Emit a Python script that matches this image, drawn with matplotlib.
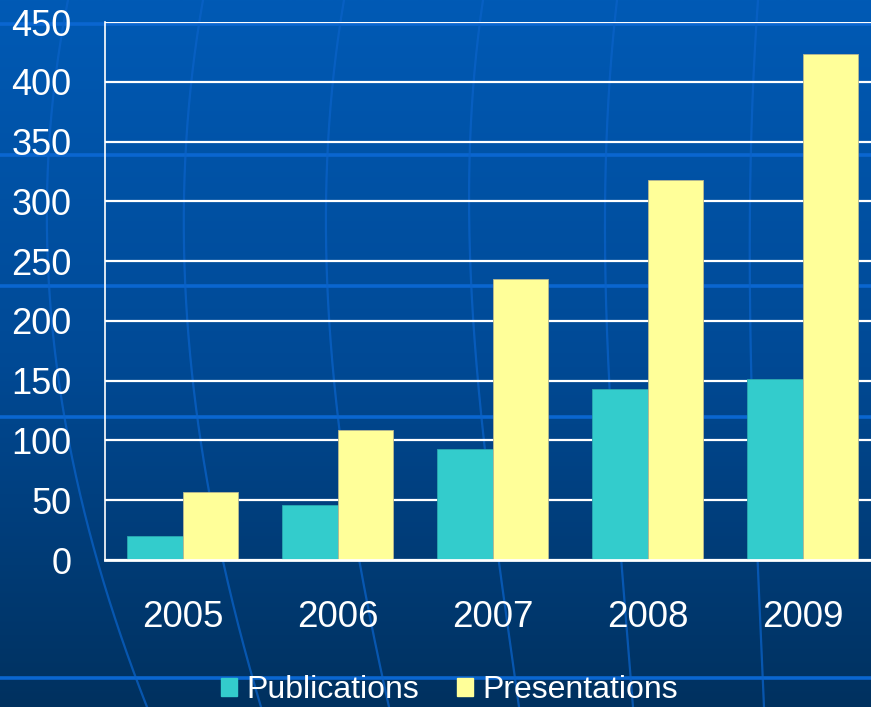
import numpy as np
import matplotlib
matplotlib.use("Agg")
import matplotlib.pyplot as plt
from matplotlib.patches import Rectangle
from matplotlib.colors import LinearSegmentedColormap

years = ["2005", "2006", "2007", "2008", "2009"]
publications = [20, 46, 93, 143, 151]
presentations = [57, 109, 235, 318, 423]
yticks = [0, 50, 100, 150, 200, 250, 300, 350, 400, 450]

W, H = 871, 707
plt.rcParams['font.family'] = ['Liberation Sans', 'DejaVu Sans']
fig = plt.figure(figsize=(W / 100, H / 100), dpi=100)

# background with gradient and decorative lines
bg = fig.add_axes([0, 0, 1, 1], zorder=0)
cmap = LinearSegmentedColormap.from_list("bg", ["#005ab5", "#004a96", "#00315f"])
grad = np.linspace(0, 1, 256).reshape(-1, 1)
bg.imshow(grad, aspect="auto", cmap=cmap, extent=[0, W, H, 0])
for yy in [24, 155, 286, 417, 678]:
    bg.plot([0, W], [yy, yy], color="#0a66d0", lw=2.6, solid_capstyle="butt")
meridians = [
    [(68, 0), (50, 300), (100, 570), (147, 707)],
    [(203, 0), (186, 300), (225, 570), (261, 707)],
    [(344, 0), (328, 300), (361, 570), (389, 707)],
    [(483, 0), (472, 300), (500, 570), (519, 707)],
    [(617, 0), (606, 300), (622, 570), (633, 707)],
    [(758, 0), (750, 300), (758, 570), (764, 707)],
]
ys = np.linspace(0, H, 200)
for pts in meridians:
    py = [p[1] for p in pts]
    px = [p[0] for p in pts]
    c = np.polyfit(py, px, 3)
    bg.plot(np.polyval(c, ys), ys, color="#0a62c8", lw=1.6, alpha=0.75)
bg.set_xlim(0, W)
bg.set_ylim(H, 0)
bg.axis("off")

ax = fig.add_axes([105 / W, 1 - 560 / H, 1 - 105 / W, (560 - 22) / H], zorder=1)
ax.patch.set_alpha(0)
x = np.arange(len(years))
bw = 0.361
ax.bar(x - bw / 2, publications, width=bw, color="#33cccc", edgecolor="#2aa8b0", linewidth=0.6, zorder=3)
ax.bar(x + bw / 2, presentations, width=bw, color="#ffff99", edgecolor="#b8b890", linewidth=0.6, zorder=3)

ax.set_ylim(0, 450)
ax.set_xlim(-0.5, -0.5 + 766 / 155)
ax.set_yticks(yticks)
ax.set_yticklabels([str(v) for v in yticks])
ax.set_xticks(x)
ax.set_xticklabels(years)
ax.yaxis.grid(True, color="white", lw=1.6)
ax.set_axisbelow(True)
ax.tick_params(axis="y", length=0, pad=24, labelsize=26, labelcolor="white")
ax.tick_params(axis="x", length=0, pad=29, labelsize=26.5, labelcolor="white")
for s in ["top", "right"]:
    ax.spines[s].set_visible(False)
ax.spines["left"].set_color("white")
ax.spines["left"].set_linewidth(1.2)
ax.spines["bottom"].set_color("white")
ax.spines["bottom"].set_linewidth(2.0)
ax.spines["bottom"].set_zorder(4)

handles = [Rectangle((0, 0), 1, 1, color="#33cccc"), Rectangle((0, 0), 1, 1, color="#ffff99")]
leg = fig.legend(handles, ["Publications", "Presentations"], loc="center",
                 bbox_to_anchor=(449.5 / W, 1 - 690 / H), ncol=2, frameon=False,
                 fontsize=23, handlelength=0.5, handleheight=0.5, handletextpad=0.28,
                 columnspacing=1.19, borderpad=0, borderaxespad=0)
for t in leg.get_texts():
    t.set_color("white")

fig.savefig("out.png", dpi=100)
